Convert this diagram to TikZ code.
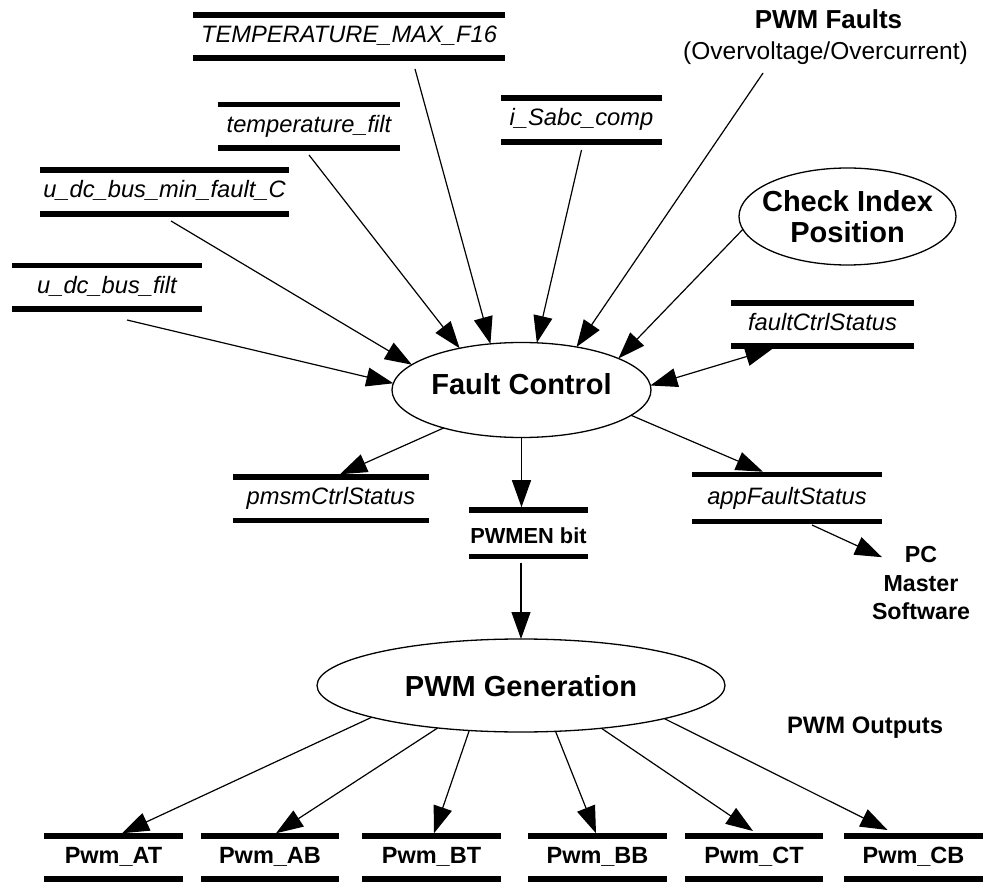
\documentclass[tikz,border=0pt]{standalone}
\usepackage{fontspec}
\setmainfont{Liberation Sans}
\usetikzlibrary{shapes.geometric,arrows.meta,calc}

\begin{document}
\begin{tikzpicture}[x=1pt,y=-1pt,
  datastore/.style={minimum width=#1, minimum height=43.5pt, inner sep=0pt, outer sep=0pt,
    text height=17pt, text depth=5pt, font=\fontsize{23.7}{28}\selectfont\itshape},
  outstore/.style={minimum width=#1, minimum height=43pt, inner sep=0pt, outer sep=0pt,
    text height=17pt, text depth=5pt, font=\fontsize{23.5}{28}\selectfont\bfseries},
  storebar/.style={line width=5.5pt},
  process/.style={ellipse, draw, line width=1.3pt, inner sep=0pt, outer sep=0pt,
    font=\fontsize{29}{31}\selectfont\bfseries},
  flow/.style={line width=1.2pt, -{Triangle[length=27pt,width=19pt]}},
  plain/.style={inner sep=0pt, outer sep=0pt},
]
\useasboundingbox (0,0) rectangle (983,882);

% data stores feeding the fault controller
\node[datastore=312pt, minimum height=43.2pt] (tmax) at (349,36.4) {TEMPERATURE\_MAX\_F16};
\node[datastore=182pt] (tfilt) at (309,126.25) {temperature\_filt};
\node[datastore=249pt, minimum height=44pt] (umin) at (164.5,192) {u\_dc\_bus\_min\_fault\_C};
\node[datastore=190pt] (ufilt) at (107,287.25) {u\_dc\_bus\_filt};
\node[datastore=161pt, minimum height=44pt] (isabc) at (581.5,120) {i\_Sabc\_comp};
\node[datastore=183pt, minimum height=43pt] (fcs) at (822.5,324.5) {faultCtrlStatus};
\node[datastore=190pt, minimum height=47pt] (afs) at (787,498) {appFaultStatus};
\node[datastore=196pt] (pcs) at (331,498.75) {pmsmCtrlStatus};
\node[outstore=119pt, minimum height=46.5pt, text height=20pt, text depth=0pt,
      font=\fontsize{21.8}{26}\selectfont\bfseries] (pwmen) at (528.5,533.25) {PWMEN bit};

% PWM output stores
\node[outstore=139pt] (pat) at (113.5,857.5) {Pwm\_AT};
\node[outstore=138pt] (pab) at (270,857.5) {Pwm\_AB};
\node[outstore=139pt] (pbt) at (431.5,857.5) {Pwm\_BT};
\node[outstore=139pt] (pbb) at (597.5,857.5) {Pwm\_BB};
\node[outstore=138pt] (pct) at (754,857.5) {Pwm\_CT};
\node[outstore=139pt] (pcb) at (913.5,857.5) {Pwm\_CB};

% store bars
\foreach \s in {tmax,tfilt,umin,ufilt,isabc,fcs,afs,pcs,pwmen,pat,pab,pbt,pbb,pct,pcb}
  \draw[storebar] (\s.north west) -- (\s.north east) (\s.south west) -- (\s.south east);

% processes
\node[process, minimum width=259pt, minimum height=95pt, text height=21pt, text depth=11pt]
  (fc) at (521.5,390) {Fault Control};
\node[process, minimum width=217pt, minimum height=97pt, inner xsep=-12pt, align=center]
  (chk) at (847.5,216.5) {Check Index\\Position};
\node[process, minimum width=408pt, minimum height=93pt, text height=21pt, text depth=0pt]
  (gen) at (521,685.5) {PWM Generation};

% external sources and sinks
\node[plain, anchor=base, font=\fontsize{26}{30}\selectfont\bfseries] (pwmf) at (828.5,29) {PWM Faults};
\node[plain, anchor=base, font=\fontsize{24.5}{28}\selectfont] (pwmfsub) at (825.5,60) {(Overvoltage/Overcurrent)};
\node[plain, align=center, font=\fontsize{23.2}{28.5}\selectfont\bfseries] (pcm) at (921,583.2) {PC\\Master\\Software};
\node[plain, anchor=base, font=\fontsize{23.8}{28}\selectfont\bfseries] (pwmout) at (865,733) {PWM Outputs};

% inputs of Fault Control
\draw[flow] ([xshift=20pt,yshift=-11pt]ufilt.south) -- (fc.177);
\draw[flow] ([xshift=6.5pt,yshift=-7pt]umin.south) -- (fc.167);
\draw[flow] ([yshift=-7pt]tfilt.south) -- (fc.146);
\draw[flow] ([xshift=66pt,yshift=-11pt]tmax.south) -- (fc.124);
\draw[flow] ([yshift=-8pt]isabc.south) -- (fc.72);
\draw[flow] ([xshift=-62.5pt,yshift=-8pt]pwmfsub.south) -- (fc.38);
\draw[flow] (chk.187) -- (fc.18);
\draw[flow, {Triangle[length=27pt,width=19pt]}-{Triangle[length=27pt,width=19pt]}]
  (fc.2) -- ([xshift=-50pt,yshift=-2.75pt]fcs.south);

% outputs of Fault Control
\draw[flow] (fc.206) -- ([xshift=9pt,yshift=2.75pt]pcs.north);
\draw[flow] (fc.south) -- ($(fc.south |- pwmen.north)+(0,-2.75)$);
\draw[flow] (fc.347) -- ([xshift=-24pt,yshift=2.75pt]afs.north);
\draw[flow] ([xshift=25pt,yshift=-3.5pt]afs.south) -- ([xshift=-39pt,yshift=26pt]pcm.center);
\draw[flow] ($(gen.north |- pwmen.south)+(0,6)$) -- (gen.north);

% PWM Generation outputs
\draw[flow] (gen.192) -- ([xshift=8.5pt,yshift=2.75pt]pat.north);
\draw[flow] (gen.207) -- ([xshift=6pt,yshift=2.75pt]pab.north);
\draw[flow] (gen.221) -- ([xshift=2.5pt,yshift=2.75pt]pbt.north);
\draw[flow] (gen.307) -- ([xshift=-1.5pt,yshift=2.75pt]pbb.north);
\draw[flow] (gen.332) -- ([xshift=-1pt,yshift=5pt]pct.north);
\draw[flow] (gen.347) -- ([xshift=-26pt,yshift=6pt]pcb.north);
\end{tikzpicture}
\end{document}
